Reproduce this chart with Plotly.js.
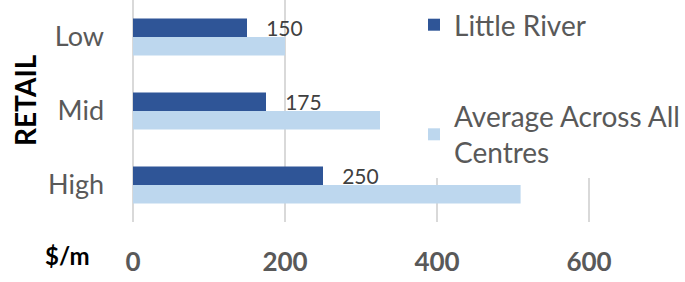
<!DOCTYPE html>
<html>
<head>
<meta charset="utf-8">
<script src="https://cdn.plot.ly/plotly-3.0.1.min.js"></script>
<style>html,body{margin:0;padding:0;background:#fff;}#chart{width:685px;height:282px;}</style>
</head>
<body>
<div id="chart"></div>
<script>
const categories = ["Low", "Mid", "High"];
const littleRiver = [150, 175, 250];
const averageAll = [200, 325, 510];
const xTicks = [0, 200, 400, 600];
const seriesNames = ["Little River", "Average Across All<br>Centres"];

const FONT = "Lato, 'Noto Sans', sans-serif";
const pad = "\u00a0\u00a0\u00a0";

const traces = [
  {
    type: "bar", orientation: "h", name: seriesNames[0],
    y: categories, x: littleRiver,
    marker: {color: "#2f5597", line: {width: 0}},
    texttemplate: pad + "%{x}",
    textposition: "outside",
    constraintext: "none",
    cliponaxis: false,
    textfont: {family: FONT, size: 21, color: "#404040"},
    legendgroup: "a", hoverinfo: "skip"
  },
  {
    type: "bar", orientation: "h", name: seriesNames[1],
    y: categories, x: averageAll,
    marker: {color: "#bdd7ee", line: {width: 0}},
    legendgroup: "b", hoverinfo: "skip"
  }
];

const layout = {
  width: 685, height: 282,
  margin: {l: 133, r: 20, t: 0, b: 60},
  paper_bgcolor: "#fff", plot_bgcolor: "#fff",
  font: {family: FONT, color: "#595959"},
  barmode: "group", bargap: 0.5, bargroupgap: 0,
  showlegend: true,
  legend: {
    x: (414 - 133) / 532, xanchor: "left", y: 1, yanchor: "top",
    bgcolor: "#fff", borderwidth: 0,
    font: {family: FONT, size: 28, color: "#595959"},
    traceorder: "grouped", tracegroupgap: 52,
    itemclick: false
  },
  xaxis: {
    range: [0, 700], tickvals: xTicks, ticktext: xTicks.map(String),
    showgrid: true, gridcolor: "#d9d9d9", gridwidth: 2,
    zeroline: true, zerolinecolor: "#d9d9d9", zerolinewidth: 2,
    showline: false, ticks: "",
    tickfont: {family: FONT, size: 26, color: "#595959", weight: "bold"},
    ticklabelstandoff: 22
  },
  yaxis: {
    autorange: "reversed", showgrid: false, zeroline: false, showline: false, ticks: "",
    tickfont: {family: FONT, size: 27, color: "#595959"},
    ticklabelstandoff: 28
  },
  annotations: [
    {text: "RETAIL", xref: "paper", yref: "paper", x: (25 - 133) / 532, y: 1 - 100 / 222,
     xanchor: "center", yanchor: "middle", textangle: -90, showarrow: false,
     font: {family: FONT, size: 28, color: "#000", weight: "bold"}},
    {text: "$/m", xref: "paper", yref: "paper", x: (67 - 133) / 532, y: -(255 - 222) / 222,
     xanchor: "center", yanchor: "middle", showarrow: false,
     font: {family: FONT, size: 24, color: "#000", weight: "bold"}}
  ]
};

Plotly.newPlot("chart", traces, layout, {displayModeBar: false, staticPlot: true});
</script>
</body>
</html>
